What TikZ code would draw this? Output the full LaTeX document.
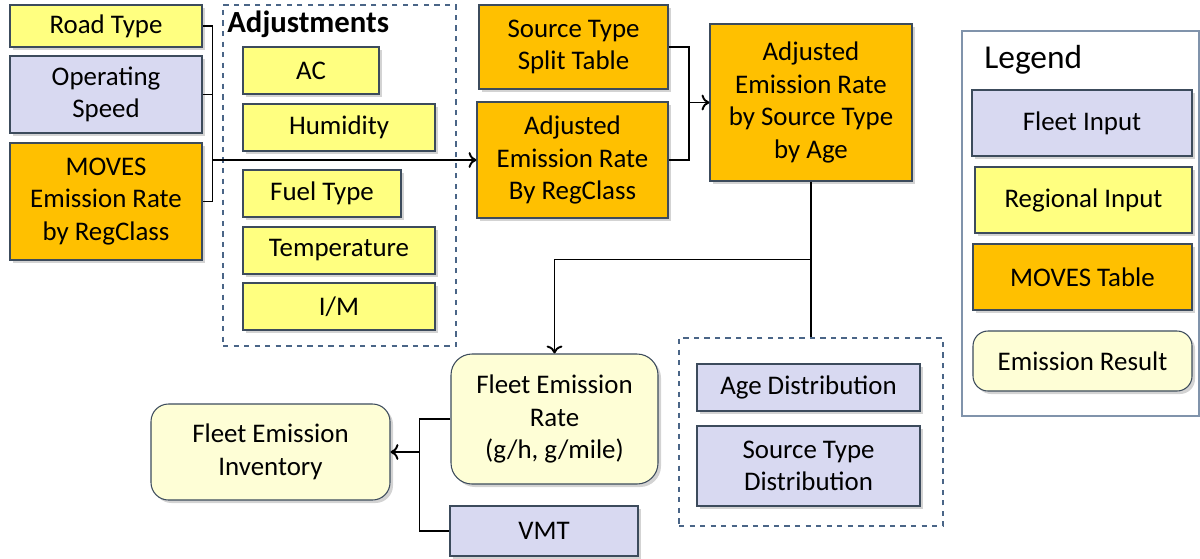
\documentclass[tikz,border=0pt]{standalone}
\usepackage{fontspec}
\setmainfont{Carlito}
\usepackage{xcolor}
\usetikzlibrary{shapes,arrows,arrows.meta,positioning,fit,calc,shadows}

\definecolor{regyellow}{HTML}{FFFF80}
\definecolor{fleetblue}{HTML}{D8D9F1}
\definecolor{movesorange}{HTML}{FFC000}
\definecolor{resultcream}{HTML}{FEFED6}
\definecolor{boxline}{HTML}{3C4B5C}
\definecolor{groupline}{HTML}{4A6587}

\begin{document}
\begin{tikzpicture}[
    font=\fontsize{15.3}{18.5}\selectfont,
    >={To[length=4.5pt, width=9pt]},
    every node/.style={align=center, inner sep=0pt},
    box/.style={rectangle, draw=boxline, line width=0.6pt,
        drop shadow={opacity=0.35, shadow xshift=0.06cm, shadow yshift=-0.06cm}},
    regional/.style={box, fill=regyellow},
    fleet/.style={box, fill=fleetblue},
    movestab/.style={box, fill=movesorange},
    result/.style={box, fill=resultcream, rounded corners=0.35cm},
    group/.style={rectangle, draw=groupline, dashed, line width=0.6pt},
    link/.style={line width=1.1pt}
]
    \useasboundingbox (0,0) rectangle (24,-11.16);

    % inputs on the left
    \node (road) [regional, minimum width=3.84cm, minimum height=0.84cm] at (2.12,-0.52) {Road Type};
    \node (speed) [fleet, minimum width=3.84cm, minimum height=1.54cm] at (2.12,-1.89) {Operating\\Speed};
    \node (moves) [movestab, minimum width=3.84cm, minimum height=2.34cm] at (2.12,-4.03) {MOVES\\Emission Rate\\by RegClass};

    % adjustments group
    \node (adjgroup) [group, minimum width=4.66cm, minimum height=6.82cm] at (6.79,-3.51) {};
    \node (adjlabel) [anchor=west, font=\fontsize{17.5}{20}\selectfont\bfseries] at (4.54,-0.48) {Adjustments};
    \node (ac) [regional, minimum width=2.72cm, minimum height=0.94cm] at (6.22,-1.41) {AC};
    \node (hum) [regional, minimum width=3.84cm, minimum height=0.94cm] at (6.78,-2.55) {Humidity};
    \node (fuel) [regional, minimum width=3.16cm, minimum height=0.94cm] at (6.44,-3.87) {Fuel Type};
    \node (temp) [regional, minimum width=3.84cm, minimum height=0.94cm] at (6.78,-5.01) {Temperature};
    \node (im) [regional, minimum width=3.84cm, minimum height=0.94cm] at (6.78,-6.13) {I/M};

    % rates
    \node (split) [movestab, minimum width=3.78cm, minimum height=1.68cm] at (11.47,-0.94) {Source Type\\Split Table};
    \node (adjreg) [movestab, minimum width=3.82cm, minimum height=2.32cm] at (11.45,-3.2) {Adjusted\\Emission Rate\\By RegClass};
    \node (adjage) [movestab, minimum width=4.04cm, minimum height=3.14cm] at (16.22,-2.05) {Adjusted\\Emission Rate\\by Source Type\\by Age};

    % distributions group
    \node (distgroup) [group, minimum width=5.28cm, minimum height=3.76cm] at (16.22,-8.64) {};
    \node (age) [fleet, minimum width=4.46cm, minimum height=0.94cm] at (16.17,-7.75) {Age Distribution};
    \node (stdist) [fleet, minimum width=4.46cm, minimum height=1.6cm] at (16.17,-9.32) {Source Type\\Distribution};

    % results
    \node (fer) [result, rounded corners=0.42cm, minimum width=4.14cm, minimum height=2.6cm] at (11.09,-8.38) {Fleet Emission\\Rate\\(g/h, g/mile)};
    \node (inv) [result, minimum width=4.78cm, minimum height=1.92cm] at (5.41,-9.04) {Fleet Emission\\Inventory};
    \node (vmt) [fleet, minimum width=3.76cm, minimum height=1.0cm] at (10.88,-10.62) {VMT};

    % legend
    \node (legend) [rectangle, draw=groupline!70, line width=0.8pt, minimum width=4.74cm, minimum height=7.7cm] at (21.61,-4.47) {};
    \node (leglabel) [anchor=west, font=\fontsize{19}{22}\selectfont] at (19.68,-1.2) {Legend};
    \node (fleetin) [fleet, minimum width=4.4cm, minimum height=1.32cm] at (21.64,-2.46) {Fleet Input};
    \node (regin) [regional, minimum width=4.34cm, minimum height=1.32cm] at (21.67,-4.0) {Regional Input};
    \node (movtab) [movestab, minimum width=4.38cm, minimum height=1.32cm] at (21.65,-5.54) {MOVES Table};
    \node (res) [result, rounded corners=0.3cm, minimum width=4.38cm, minimum height=1.2cm] at (21.65,-7.22) {Emission Result};

    % connectors
    \draw [link] (road.east) -- ++(0.2,0) coordinate (rj) |- (moves.east);
    \draw [link] (speed.east) -- (speed.east -| rj);
    \draw [link, ->] (rj |- adjreg.west) -- (adjreg.west);
    \draw [link] (split.east) -- ++(0.4,0) coordinate (sj) |- (adjreg.east);
    \draw [link, ->] (sj |- adjage.west) -- (adjage.west);
    \draw [link] (adjage.south) -- (distgroup.north);
    \coordinate (tj) at ($(adjage.south)!0.5!(distgroup.north)$);
    \draw [link, ->] (tj) -| (fer.north);
    \draw [link] (fer.west) -- ++(-0.62,0) coordinate (fj) |- (vmt.west);
    \draw [link, ->] (fj |- inv.east) -- (inv.east);
\end{tikzpicture}
\end{document}
